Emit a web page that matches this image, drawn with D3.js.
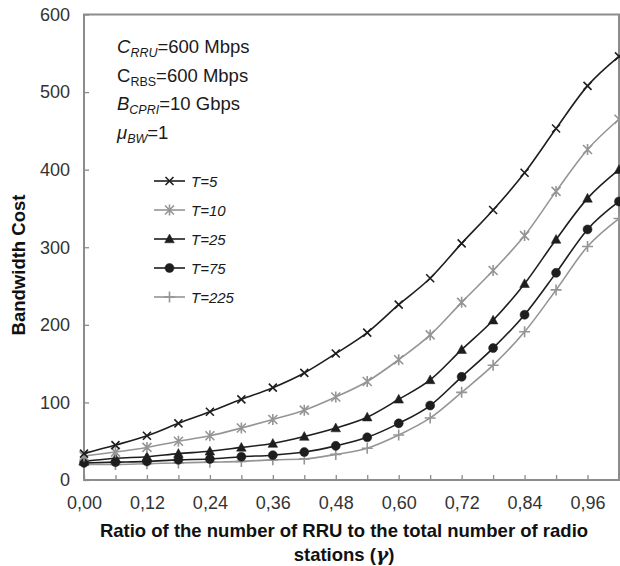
<!DOCTYPE html>
<html>
<head>
<meta charset="UTF-8">
<title>Bandwidth Cost</title>
<script src="https://d3js.org/d3.v7.min.js"></script>
<style>
  body { margin: 0; background: #fff; }
  text { font-family: "Liberation Sans", Arial, Helvetica, sans-serif; }
</style>
</head>
<body>
<div id="chart"></div>
<script>
// ratio of RRU (x categories) and the five curves
const ratios = [0, 0.06, 0.12, 0.18, 0.24, 0.30, 0.36, 0.42, 0.48, 0.54, 0.60, 0.66, 0.72, 0.78, 0.84, 0.90, 0.96, 1.02];
const t5   = [34, 45, 57, 73, 88, 104, 119, 138, 163, 190, 226, 260, 305, 348, 396, 453, 508, 546];
const t10  = [31, 36, 42, 50, 57, 67, 78, 90, 107, 127, 155, 187, 229, 270, 315, 372, 426, 465];
const t25  = [24, 28, 30, 34, 37, 42, 47, 56, 67, 81, 104, 129, 168, 206, 253, 310, 363, 400];
const t75  = [22, 23, 24, 26, 27, 30, 32, 36, 44, 55, 73, 96, 133, 170, 213, 267, 323, 359];
const t225 = [20, 20, 21, 22, 23, 24, 26, 27, 33, 41, 58, 80, 113, 148, 191, 245, 301, 337];

const seriesNames = ["T=5", "T=10", "T=25", "T=75", "T=225"];
const xTickLabels = [0, 0.12, 0.24, 0.36, 0.48, 0.60, 0.72, 0.84, 0.96];
const yTickLabels = [0, 100, 200, 300, 400, 500, 600];

const series = [
  {name: seriesNames[0], values: t5,   color: "#1e1e1e", marker: "times"},
  {name: seriesNames[1], values: t10,  color: "#959595", marker: "asterisk"},
  {name: seriesNames[2], values: t25,  color: "#1e1e1e", marker: "triangle"},
  {name: seriesNames[3], values: t75,  color: "#1e1e1e", marker: "circle"},
  {name: seriesNames[4], values: t225, color: "#959595", marker: "plus"}
];

const width = 620, height = 566;
const plot = {left: 84, right: 619, top: 14.5, bottom: 480};

const svg = d3.select("#chart").append("svg")
  .attr("width", width)
  .attr("height", height);

const x = d3.scaleLinear().domain([0, 1.02]).range([plot.left, plot.right]);
const y = d3.scaleLinear().domain([0, 600]).range([plot.bottom, plot.top]);

const fmt = d => d3.format(".2f")(d).replace(".", ",");

// plot frame
svg.append("rect")
  .attr("x", plot.left).attr("y", plot.top)
  .attr("width", plot.right - plot.left).attr("height", plot.bottom - plot.top)
  .attr("fill", "none").attr("stroke", "#8c8c8c").attr("stroke-width", 2);

// x axis: ticks inside every category, labels every second one
const xAxis = svg.append("g")
  .attr("transform", `translate(0,${plot.bottom})`)
  .call(d3.axisBottom(x).tickValues(ratios).tickSizeInner(-5).tickSizeOuter(0)
    .tickFormat(d => xTickLabels.some(v => Math.abs(v - d) < 1e-9) ? fmt(d) : ""));
xAxis.select(".domain").remove();
xAxis.selectAll(".tick line").attr("stroke", "#8c8c8c").attr("stroke-width", 1.3);
xAxis.selectAll(".tick text")
  .attr("y", 29).attr("dy", 0)
  .attr("fill", "#333").attr("font-size", 18)
  .style("font-family", "'Liberation Sans', Arial, sans-serif");

// y axis
const yAxis = svg.append("g")
  .attr("transform", `translate(${plot.left},0)`)
  .call(d3.axisLeft(y).tickValues(yTickLabels).tickSizeInner(-5).tickSizeOuter(0).tickPadding(14));
yAxis.select(".domain").remove();
yAxis.selectAll(".tick line").attr("stroke", "#8c8c8c").attr("stroke-width", 1.3);
yAxis.selectAll(".tick text")
  .attr("fill", "#333").attr("font-size", 18)
  .style("font-family", "'Liberation Sans', Arial, sans-serif");

// axis titles
svg.append("text")
  .attr("transform", "translate(25,265) rotate(-90)")
  .attr("text-anchor", "middle")
  .attr("font-size", 18.5).attr("font-weight", "bold").attr("fill", "#111")
  .text("Bandwidth Cost");

const xTitle = svg.append("text")
  .attr("text-anchor", "middle")
  .attr("font-size", 18.5).attr("font-weight", "bold").attr("fill", "#111");
xTitle.append("tspan").attr("x", 344).attr("y", 537)
  .text("Ratio of the number of RRU to the total number of radio");
const l2 = xTitle.append("tspan").attr("x", 344).attr("y", 561);
l2.append("tspan").text("stations (");
l2.append("tspan").attr("font-style", "italic").attr("font-family", "'DejaVu Serif', serif").text("γ");
l2.append("tspan").text(")");

// parameter notes
const notes = [
  {main: "C", sub: "RRU", rest: "=600 Mbps", italic: true},
  {main: "C", sub: "RBS", rest: "=600 Mbps", italic: false},
  {main: "B", sub: "CPRI", rest: "=10 Gbps", italic: true},
  {main: "μ", sub: "BW", rest: "=1", italic: true}
];
notes.forEach((n, i) => {
  const t = svg.append("text")
    .attr("x", 117).attr("y", 53 + i * 28.5)
    .attr("font-size", 18.5).attr("fill", "#1a1a1a");
  t.append("tspan").attr("font-style", n.italic ? "italic" : "normal").text(n.main);
  t.append("tspan").attr("font-style", n.italic ? "italic" : "normal")
    .attr("font-size", 12.5).attr("dy", 4).text(n.sub);
  t.append("tspan").attr("dy", -4).text(n.rest);
});

// marker paths
function markerPath(type) {
  switch (type) {
    case "times": { const r = 4; return `M${-r},${-r}L${r},${r}M${-r},${r}L${r},${-r}`; }
    case "asterisk": { const r = 4.5, v = 5.5; return `M${-r},${-r}L${r},${r}M${-r},${r}L${r},${-r}M0,${-v}L0,${v}`; }
    case "plus": { const r = 5.5; return `M${-r},0L${r},0M0,${-r}L0,${r}`; }
    case "triangle": return "M0,-5L4.8,3.8L-4.8,3.8Z";
    case "circle": return d3.symbol(d3.symbolCircle, 64)();
  }
}
const filled = m => m === "triangle" || m === "circle";

const line = d3.line()
  .x((d, i) => x(ratios[i]))
  .y(d => y(d))
  .curve(d3.curveMonotoneX);

const gSeries = svg.append("g");
series.slice().reverse().forEach(s => {
  const g = gSeries.append("g");
  g.append("path")
    .attr("d", line(s.values))
    .attr("fill", "none").attr("stroke", s.color).attr("stroke-width", 1.6);
  g.selectAll("path.m")
    .data(s.values)
    .join("path")
    .attr("class", "m")
    .attr("transform", (d, i) => `translate(${x(ratios[i])},${y(d)})`)
    .attr("d", markerPath(s.marker))
    .attr("fill", filled(s.marker) ? s.color : "none")
    .attr("stroke", s.color)
    .attr("stroke-width", filled(s.marker) ? 0.5 : 1.6);
});

// legend
const legend = svg.append("g");
series.forEach((s, i) => {
  const ly = 181 + i * 29;
  legend.append("line")
    .attr("x1", 154).attr("x2", 185).attr("y1", ly).attr("y2", ly)
    .attr("stroke", s.color).attr("stroke-width", 1.6);
  legend.append("path")
    .attr("transform", `translate(169.5,${ly})`)
    .attr("d", markerPath(s.marker))
    .attr("fill", filled(s.marker) ? s.color : "none")
    .attr("stroke", s.color)
    .attr("stroke-width", filled(s.marker) ? 0.5 : 1.6);
  legend.append("text")
    .attr("x", 191).attr("y", ly + 5.5)
    .attr("font-size", 15).attr("font-style", "italic").attr("fill", "#1a1a1a")
    .text(s.name);
});
</script>
</body>
</html>
